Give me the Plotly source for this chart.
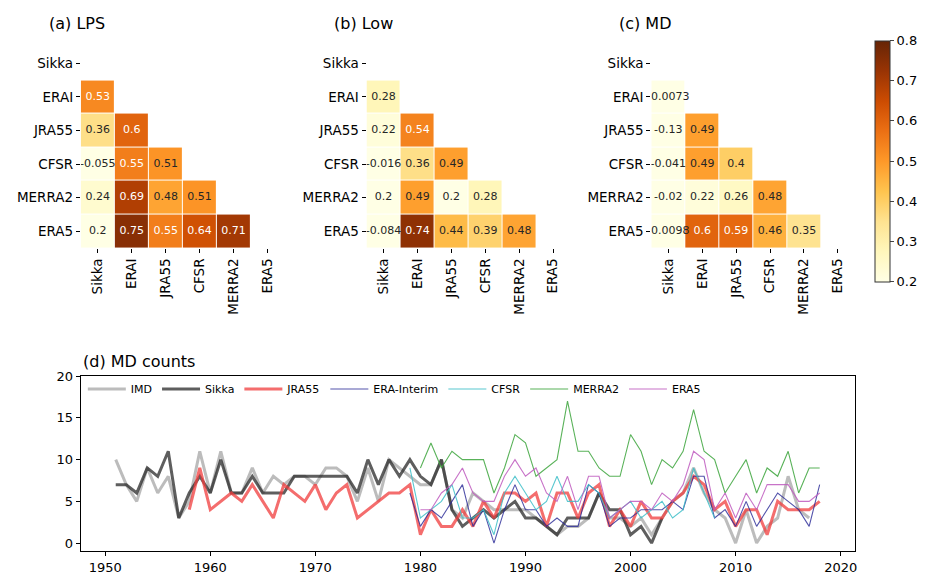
import plotly.graph_objects as go

W, H = 934, 575

# ---------------- correlation data (lower triangles) ----------------
labels = ["Sikka", "ERAI", "JRA55", "CFSR", "MERRA2", "ERA5"]
lps_corr = [[], [0.53], [0.36, 0.6], [-0.055, 0.55, 0.51],
            [0.24, 0.69, 0.48, 0.51], [0.2, 0.75, 0.55, 0.64, 0.71]]
low_corr = [[], [0.28], [0.22, 0.54], [-0.016, 0.36, 0.49],
            [0.2, 0.49, 0.2, 0.28], [-0.084, 0.74, 0.44, 0.39, 0.48]]
md_corr = [[], [-0.0073], [-0.13, 0.49], [-0.041, 0.49, 0.4],
           [-0.02, 0.22, 0.26, 0.48], [-0.0098, 0.6, 0.59, 0.46, 0.35]]
panel_titles = ["(a) LPS", "(b) Low", "(c) MD"]
cbar_ticks = [0.2, 0.3, 0.4, 0.5, 0.6, 0.7, 0.8]

# ---------------- MD counts time series ----------------
imd_start = 1951
imd = [10, 7, 5, 9, 6, 8, 3, 5, 11, 6, 11, 6, 6, 9, 6, 8, 7, 8, 8, 7,
       9, 9, 8, 5, 9, 5, 10, 9, 8, 7, 7, 10, 4, 3, 6, 5, 4, 4, 4, 4,
       3, 2, 1, 2, 2, 3, 6, 3, 3, 2, 3, 1, 3, 5, 6, 9, 6, 4, 3, 0,
       4, 0, 2, 3, 8, 4, 3]
sikka_start = 1951
sikka = [7, 7, 6, 9, 8, 11, 3, 6, 8, 6, 10, 6, 6, 8, 6, 6, 6, 8, 8, 8,
         8, 8, 8, 6, 10, 7, 10, 8, 10, 8, 7, 10, 4, 2, 3, 4, 3, 4, 5, 3,
         3, 2, 1, 3, 3, 3, 6, 4, 4, 1, 2, 0, 3]
jra55_start = 1958
jra55 = [4, 9, 4, 5, 6, 5, 7, 5, 3, 7, 6, 5, 7, 4, 6, 7, 3, 4, 5, 6,
         6, 7, 1, 4, 2, 2, 4, 2, 5, 3, 6, 6, 5, 6, 2, 6, 6, 3, 6, 7,
         2, 4, 2, 5, 3, 3, 5, 6, 8, 7, 4, 5, 2, 4, 4, 1, 5, 4, 4, 4, 5]
erai_start = 1979
erai = [6, 2, 4, 3, 5, 7, 2, 4, 0, 4, 7, 4, 4, 2, 3, 2, 2, 7, 6, 2,
        3, 3, 4, 4, 4, 5, 4, 8, 8, 3, 4, 2, 5, 2, 4, 6, 5, 4, 2, 7]
cfsr_start = 1979
cfsr = [9, 3, 4, 5, 7, 3, 3, 4, 1, 6, 8, 6, 4, 5, 8, 5, 5, 7, 6, 3,
        4, 5, 3, 4, 5, 3, 4, 9, 6, 3]
merra2_start = 1980
merra2 = [9, 12, 9, 11, 10, 10, 10, 6, 9, 13, 12, 8, 9, 10, 17, 11, 11, 9, 8, 8,
          13, 11, 7, 10, 9, 11, 16, 11, 10, 6, 8, 10, 6, 9, 8, 11, 6, 9, 9]
era5_start = 1980
era5 = [4, 4, 6, 7, 9, 6, 5, 5, 8, 10, 8, 9, 6, 5, 8, 4, 8, 8, 3, 4,
        5, 5, 4, 6, 5, 7, 11, 10, 4, 6, 3, 6, 4, 7, 7, 7, 5, 5, 6]

series = [
    ("IMD", imd_start, imd, "rgba(160,160,160,0.7)", 3),
    ("Sikka", sikka_start, sikka, "rgba(40,40,40,0.75)", 3),
    ("JRA55", jra55_start, jra55, "rgba(240,60,60,0.75)", 3),
    ("ERA-Interim", erai_start, erai, "rgba(40,40,150,0.8)", 1.1),
    ("CFSR", cfsr_start, cfsr, "rgba(60,190,200,0.85)", 1.1),
    ("MERRA2", merra2_start, merra2, "rgba(60,165,60,0.85)", 1.1),
    ("ERA5", era5_start, era5, "rgba(190,90,190,0.85)", 1.1),
]

FONT = "DejaVu Sans"
fig = go.Figure()

# ---------------- heatmaps ----------------
panel_x0 = [81.0, 367.3, 652.7]
title_x = [47, 333, 618]
top_px, bot_px = 40.0, 244.0
cell_w = 34.0

for i, (rows, title) in enumerate(zip([lps_corr, low_corr, md_corr], panel_titles)):
    n = len(labels)
    z = [[None] * n for _ in range(n)]
    tx, ty, tt, tc = [], [], [], []
    for r, row in enumerate(rows):
        for c, v in enumerate(row):
            z[r][c] = v
            tx.append(labels[c]); ty.append(labels[r])
            tt.append(format(v, ".2g"))
            tc.append("white" if v > 0.52 else "#262626")
    sx = "" if i == 0 else str(i + 1)
    fig.add_trace(go.Heatmap(z=z, x=labels, y=labels, coloraxis="coloraxis",
                             xgap=1, ygap=1, hoverongaps=False,
                             xaxis="x" + sx, yaxis="y" + sx))
    fig.add_trace(go.Scatter(x=tx, y=ty, text=tt, mode="text",
                             textfont=dict(color=tc, size=11, family=FONT),
                             showlegend=False, hoverinfo="skip",
                             xaxis="x" + sx, yaxis="y" + sx))
    x0 = panel_x0[i]
    x1 = x0 + 6 * cell_w
    common = dict(showgrid=False, zeroline=False, showline=False, ticks="outside",
                  ticklen=4, tickcolor="black", tickfont=dict(size=13.5, family=FONT, color="black"))
    fig.layout["xaxis" + sx] = dict(domain=[x0 / W, x1 / W], anchor="y" + sx, type="category",
                                    categoryorder="array", categoryarray=labels,
                                    tickangle=-90, **common)
    fig.layout["yaxis" + sx] = dict(domain=[1 - bot_px / H, 1 - top_px / H], anchor="x" + sx,
                                    type="category", categoryorder="array", categoryarray=labels,
                                    autorange="reversed", **common)
    fig.add_annotation(text=title, x=title_x[i] / W, y=1 - 17 / H, xref="paper", yref="paper",
                       xanchor="left", yanchor="middle", showarrow=False,
                       font=dict(size=16, family=FONT, color="black"))

fig.update_layout(coloraxis=dict(
    colorscale="YlOrBr", cmin=0.2, cmax=0.8,
    colorbar=dict(x=876.7 / W, xanchor="left", y=1 - 34 / H, yanchor="top",
                  lenmode="pixels", len=241, thicknessmode="pixels", thickness=15,
                  outlinewidth=1, outlinecolor="#333", ticks="outside", ticklen=4,
                  tickvals=cbar_ticks, ticktext=[f"{t:.1f}" for t in cbar_ticks],
                  tickfont=dict(size=13, family=FONT, color="black"), xpad=0, ypad=0)))

# ---------------- line chart ----------------
for name, start, vals, color, lw in series:
    xs = list(range(start, start + len(vals)))
    fig.add_trace(go.Scatter(x=xs, y=vals, mode="lines", name=name,
                             line=dict(color=color, width=lw),
                             xaxis="x4", yaxis="y4"))

lc_left, lc_right, lc_top, lc_bot = 80.7, 856.7, 373.7, 550.7
axis_common = dict(showgrid=False, zeroline=False, showline=True, linecolor="black", linewidth=1,
                   mirror=True, ticks="outside", ticklen=4, tickcolor="black",
                   tickfont=dict(size=13, family=FONT, color="black"))
fig.layout["xaxis4"] = dict(domain=[lc_left / W, lc_right / W], anchor="y4",
                            range=[1947.65, 2021.35], tickvals=[1950, 1960, 1970, 1980, 1990, 2000, 2010, 2020],
                            **axis_common)
fig.layout["yaxis4"] = dict(domain=[1 - lc_bot / H, 1 - lc_top / H], anchor="x4",
                            range=[-0.95, 20], tickvals=[0, 5, 10, 15, 20], **axis_common)
fig.add_annotation(text="(d) MD counts", x=lc_left / W, y=1 - 359 / H, xref="paper", yref="paper",
                   xanchor="left", yanchor="middle", showarrow=False,
                   font=dict(size=16, family=FONT, color="black"))

fig.update_layout(
    width=W, height=H, margin=dict(l=0, r=0, t=0, b=0),
    paper_bgcolor="white", plot_bgcolor="white",
    font=dict(family=FONT, color="black"),
    legend=dict(orientation="h", x=83 / W, y=1 - 372 / H, xanchor="left", yanchor="top",
                bgcolor="rgba(0,0,0,0)", font=dict(size=11, family=FONT, color="black"),
                itemwidth=38),
)

fig.write_html("out.html")
